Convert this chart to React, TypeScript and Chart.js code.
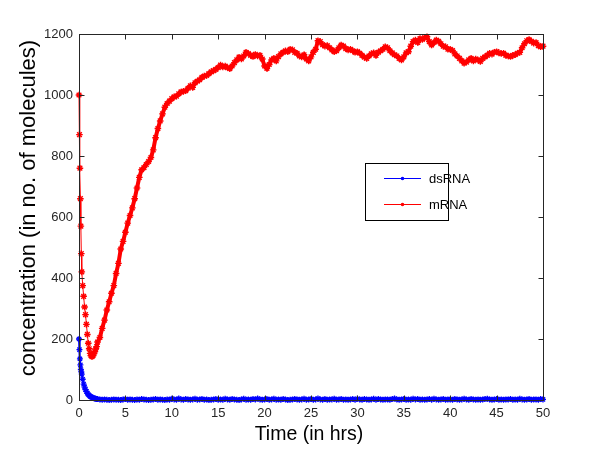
import React, { useEffect, useRef } from "react";
import { Chart, registerables } from "chart.js";

Chart.register(...registerables);

const xTicks = [0, 5, 10, 15, 20, 25, 30, 35, 40, 45, 50];
const yTicks = [0, 200, 400, 600, 800, 1000, 1200];
const seriesNames = ["dsRNA", "mRNA"];
const xTitle = "Time (in hrs)";
const yTitle = "concentration (in no. of molecules)";

const earlyTimes = [0, 0.05, 0.1, 0.15, 0.2, 0.25, 0.3, 0.4, 0.5, 0.6, 0.7, 0.8, 0.9, 1.0, 1.1, 1.2, 1.3, 1.4, 1.5, 1.6, 1.7, 1.8, 1.9, 2.0];
const lateStart = 2.25;
const lateStep = 0.25;

const mrnaEarly = [1000, 870, 760, 660, 570, 480, 420, 375, 340, 305, 280, 248, 215, 186, 168, 153, 145, 142, 145, 152, 158, 167, 175, 190];
const dsrnaEarly = [200, 165, 135, 115, 100, 92, 85, 68, 52, 42, 34, 28, 22, 18, 15, 12, 10, 9, 7, 6, 5, 4, 3, 3];

const mrnaLate = [
  205, 235, 262, 295, 322, 350, 375, 415, 448, 495, 520, 550, 580, 605, 630, 660,
  695, 730, 755, 762, 772, 782, 795, 820, 860, 890, 915, 938, 960, 972, 980, 988,
  994, 996, 1004, 1010, 1012, 1014, 1022, 1030, 1025, 1040, 1045, 1050, 1058, 1062, 1064, 1070,
  1076, 1080, 1084, 1090, 1098, 1092, 1095, 1090, 1086, 1095, 1106, 1115, 1124, 1118, 1128, 1140,
  1136, 1130, 1126, 1133, 1128, 1130, 1118, 1095, 1087, 1100, 1115, 1120, 1112, 1126, 1135, 1140,
  1145, 1142, 1150, 1148, 1140, 1137, 1128, 1125, 1132, 1118, 1112, 1125, 1140, 1150, 1178, 1175,
  1165, 1160, 1162, 1155, 1148, 1142, 1145, 1155, 1164, 1160, 1152, 1148, 1150, 1145, 1140, 1142,
  1137, 1130, 1124, 1120, 1128, 1135, 1138, 1130, 1140, 1145, 1150, 1158, 1155, 1145, 1138, 1132,
  1128, 1120, 1115, 1125, 1138, 1142, 1160, 1175, 1180, 1172, 1185, 1182, 1188, 1191, 1175, 1164,
  1172, 1180, 1176, 1168, 1160, 1158, 1150, 1150, 1146, 1135, 1128, 1120, 1112, 1104, 1108, 1115,
  1120, 1112, 1118, 1115, 1110, 1120, 1125, 1130, 1137, 1134, 1140, 1142, 1138, 1136, 1137, 1130,
  1128, 1126, 1130, 1132, 1137, 1140, 1155, 1168, 1178, 1182, 1176, 1170, 1172, 1162, 1158, 1160,
];

const dsrnaLate = [
  2, 1, 2, 1, 0, 1, 2, 1, 1, 0, 2, 3, 1, 2, 1, 0,
  2, 1, 3, 2, 1, 0, 1, 2, 3, 1, 2, 1, 0, 2, 1, 4,
  2, 1, 5, 2, 1, 3, 2, 1, 2, 4, 1, 2, 3, 1, 2, 0,
  1, 2, 3, 1, 2, 1, 4, 2, 1, 3, 2, 1, 0, 2, 4, 1,
  2, 1, 3, 2, 5, 2, 1, 2, 3, 1, 2, 4, 1, 2, 1, 3,
  2, 0, 1, 2, 3, 2, 1, 2, 4, 1, 2, 3, 1, 2, 5, 2,
  1, 3, 1, 2, 2, 4, 1, 2, 3, 1, 2, 1, 2, 3, 1, 4,
  2, 1, 3, 2, 1, 2, 4, 1, 3, 2, 1, 2, 2, 1, 3, 5,
  2, 1, 2, 3, 1, 2, 1, 4, 2, 3, 1, 2, 1, 2, 3, 1,
  4, 2, 1, 2, 3, 1, 2, 2, 1, 3, 2, 1, 2, 4, 2, 1,
  3, 2, 1, 2, 1, 2, 3, 4, 2, 1, 2, 3, 1, 2, 1, 2,
  2, 3, 1, 2, 1, 4, 2, 1, 2, 3, 1, 2, 2, 1, 3, 2,
];

const BLUE = "#0000ff";
const RED = "#ff0000";
const AXIS = "#262626";
const FONT = "'Liberation Sans', Arial, sans-serif";

function toPoints(early: number[], late: number[]) {
  const pts = early.map((v, i) => ({ x: earlyTimes[i], y: v }));
  late.forEach((v, i) => pts.push({ x: lateStart + i * lateStep, y: v }));
  return pts;
}

const framePlugin = {
  id: "matlabFrame",
  afterDraw(chart: any) {
    const { ctx, chartArea } = chart;
    const { left, right, top, bottom } = chartArea;
    const xs = chart.scales.x;
    const ys = chart.scales.y;
    ctx.save();
    ctx.strokeStyle = AXIS;
    ctx.lineWidth = 1;
    const L = Math.round(left) + 0.5, R = Math.round(right) + 0.5, T = Math.round(top) + 0.5, B = Math.round(bottom) + 0.5;
    ctx.strokeRect(L, T, R - L, B - T);
    const tl = 5;
    ctx.beginPath();
    xTicks.forEach((t) => {
      const px = Math.round(xs.getPixelForValue(t)) + 0.5;
      ctx.moveTo(px, B); ctx.lineTo(px, B - tl);
      ctx.moveTo(px, T); ctx.lineTo(px, T + tl);
    });
    yTicks.forEach((t) => {
      const py = Math.round(ys.getPixelForValue(t)) + 0.5;
      ctx.moveTo(L, py); ctx.lineTo(L + tl, py);
      ctx.moveTo(R, py); ctx.lineTo(R - tl, py);
    });
    ctx.stroke();

    // axis titles
    ctx.fillStyle = "#000";
    ctx.textAlign = "center";
    ctx.textBaseline = "middle";
    ctx.font = `19.5px ${FONT}`;
    ctx.fillText(xTitle, (left + right) / 2 - 2, 435);
    ctx.save();
    ctx.translate(29, 208);
    ctx.rotate(-Math.PI / 2);
    ctx.font = `22px ${FONT}`;
    ctx.fillText(yTitle, 0, 0);
    ctx.restore();

    // legend
    const bx = 365.5, by = 163.5, bw = 83, bh = 57;
    ctx.fillStyle = "#fff";
    ctx.fillRect(bx, by, bw, bh);
    ctx.strokeStyle = "#000";
    ctx.strokeRect(bx, by, bw, bh);
    const rows = [
      { name: seriesNames[0], color: BLUE, y: 178.5 },
      { name: seriesNames[1], color: RED, y: 204.5 },
    ];
    rows.forEach((r) => {
      ctx.strokeStyle = r.color;
      ctx.lineWidth = 1;
      ctx.beginPath();
      ctx.moveTo(384, r.y); ctx.lineTo(421, r.y);
      ctx.stroke();
      ctx.fillStyle = r.color;
      ctx.beginPath();
      ctx.arc(402.5, r.y, 1.8, 0, Math.PI * 2);
      ctx.fill();
      ctx.fillStyle = "#000";
      ctx.font = `13px ${FONT}`;
      ctx.textAlign = "left";
      ctx.textBaseline = "middle";
      ctx.fillText(r.name, 429, r.y + 0.5);
    });
    ctx.restore();
  },
};

export default function App() {
  const ref = useRef<HTMLCanvasElement | null>(null);
  useEffect(() => {
    if (!ref.current) return;
    const chart = new Chart(ref.current, {
      type: "line",
      data: {
        datasets: [
          {
            label: seriesNames[0],
            data: toPoints(dsrnaEarly, dsrnaLate),
            borderColor: BLUE,
            backgroundColor: BLUE,
            borderWidth: 2,
            pointStyle: "star",
            pointRadius: 3,
            pointBorderWidth: 1.3,
            pointBorderColor: BLUE,
            tension: 0,
            clip: false as any,
          },
          {
            label: seriesNames[1],
            data: toPoints(mrnaEarly, mrnaLate),
            borderColor: RED,
            backgroundColor: RED,
            borderWidth: 1,
            segment: {
              borderWidth: (c: any) => (c.p0.parsed.x < 1.6 ? 1 : 4),
            },
            pointStyle: "star",
            pointRadius: 3.3,
            pointBorderWidth: 1.4,
            pointBorderColor: RED,
            tension: 0,
            clip: false as any,
          },
        ],
      },
      options: {
        responsive: false,
        animation: false,
        events: [],
        layout: { padding: { top: 34, right: 57, left: 0, bottom: 0 } },
        plugins: { legend: { display: false }, tooltip: { enabled: false } },
        scales: {
          x: {
            type: "linear",
            min: 0,
            max: 50,
            afterFit: (s: any) => { s.height = 50; },
            afterBuildTicks: (s: any) => { s.ticks = xTicks.map((v) => ({ value: v })); },
            grid: { display: false, drawTicks: false },
            border: { display: false },
            ticks: { color: AXIS, font: { family: FONT, size: 13 }, padding: 6, maxRotation: 0, autoSkip: false, callback: (v: any) => String(v) },
          },
          y: {
            type: "linear",
            min: 0,
            max: 1200,
            afterFit: (s: any) => { s.width = 79; },
            afterBuildTicks: (s: any) => { s.ticks = yTicks.map((v) => ({ value: v })); },
            grid: { display: false, drawTicks: false },
            border: { display: false },
            ticks: { color: AXIS, font: { family: FONT, size: 13 }, padding: 6, autoSkip: false, callback: (v: any) => String(v) },
          },
        },
      },
      plugins: [framePlugin],
    });
    return () => chart.destroy();
  }, []);
  return (
    <div style={{ position: "fixed", left: 0, top: 0, width: 600, height: 450, background: "#fff" }}>
      <canvas ref={ref} width={600} height={450} style={{ width: 600, height: 450, display: "block" }} />
    </div>
  );
}
